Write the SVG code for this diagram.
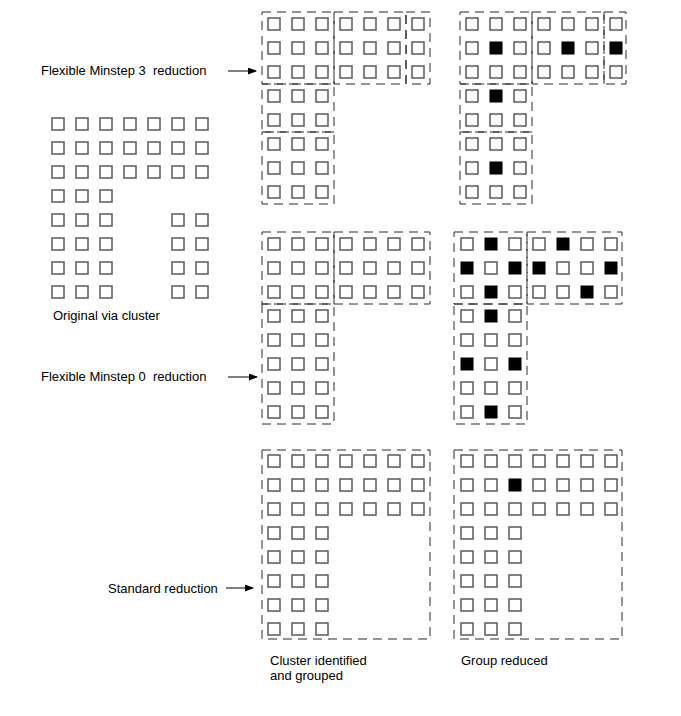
<svg xmlns="http://www.w3.org/2000/svg" xmlns:xlink="http://www.w3.org/1999/xlink" width="681" height="716" viewBox="0 0 681 716">
<style>
.sq{fill:#fff;stroke:#5a5a5a;stroke-width:1.5}
.bk{fill:#000;stroke:#000;stroke-width:1}
.box{fill:none;stroke:#2a2a2a;stroke-width:1;stroke-dasharray:9 6}
.lbl{font-family:"Liberation Sans",Arial,sans-serif;font-size:13px;fill:#000}
.arr{stroke:#000;stroke-width:1;fill:none}
</style>
<defs>
<rect id="s" width="12" height="12" class="sq"/>
<rect id="b" width="12" height="12" class="bk"/>
<marker id="ah" markerWidth="9" markerHeight="7" refX="8" refY="3.5" orient="auto" markerUnits="userSpaceOnUse">
<path d="M0,0 L9,3.5 L0,7 Z" fill="#000"/>
</marker>
</defs>
<rect width="681" height="716" fill="#fff"/>

<g id="original">
<use href="#s" x="52" y="118"/><use href="#s" x="76" y="118"/><use href="#s" x="100" y="118"/><use href="#s" x="124" y="118"/><use href="#s" x="148" y="118"/><use href="#s" x="172" y="118"/><use href="#s" x="196" y="118"/>
<use href="#s" x="52" y="142"/><use href="#s" x="76" y="142"/><use href="#s" x="100" y="142"/><use href="#s" x="124" y="142"/><use href="#s" x="148" y="142"/><use href="#s" x="172" y="142"/><use href="#s" x="196" y="142"/>
<use href="#s" x="52" y="166"/><use href="#s" x="76" y="166"/><use href="#s" x="100" y="166"/><use href="#s" x="124" y="166"/><use href="#s" x="148" y="166"/><use href="#s" x="172" y="166"/><use href="#s" x="196" y="166"/>
<use href="#s" x="52" y="190"/><use href="#s" x="76" y="190"/><use href="#s" x="100" y="190"/>
<use href="#s" x="52" y="214"/><use href="#s" x="76" y="214"/><use href="#s" x="100" y="214"/><use href="#s" x="172" y="214"/><use href="#s" x="196" y="214"/>
<use href="#s" x="52" y="238"/><use href="#s" x="76" y="238"/><use href="#s" x="100" y="238"/><use href="#s" x="172" y="238"/><use href="#s" x="196" y="238"/>
<use href="#s" x="52" y="262"/><use href="#s" x="76" y="262"/><use href="#s" x="100" y="262"/><use href="#s" x="172" y="262"/><use href="#s" x="196" y="262"/>
<use href="#s" x="52" y="286"/><use href="#s" x="76" y="286"/><use href="#s" x="100" y="286"/><use href="#s" x="172" y="286"/><use href="#s" x="196" y="286"/>
<text class="lbl" x="53" y="320">Original via cluster</text>
</g>

<g id="minstep3-grouped">
<use href="#s" x="268" y="18"/><use href="#s" x="292" y="18"/><use href="#s" x="316" y="18"/><use href="#s" x="340" y="18"/><use href="#s" x="364" y="18"/><use href="#s" x="388" y="18"/><use href="#s" x="412" y="18"/>
<use href="#s" x="268" y="42"/><use href="#s" x="292" y="42"/><use href="#s" x="316" y="42"/><use href="#s" x="340" y="42"/><use href="#s" x="364" y="42"/><use href="#s" x="388" y="42"/><use href="#s" x="412" y="42"/>
<use href="#s" x="268" y="66"/><use href="#s" x="292" y="66"/><use href="#s" x="316" y="66"/><use href="#s" x="340" y="66"/><use href="#s" x="364" y="66"/><use href="#s" x="388" y="66"/><use href="#s" x="412" y="66"/>
<use href="#s" x="268" y="90"/><use href="#s" x="292" y="90"/><use href="#s" x="316" y="90"/>
<use href="#s" x="268" y="114"/><use href="#s" x="292" y="114"/><use href="#s" x="316" y="114"/>
<use href="#s" x="268" y="138"/><use href="#s" x="292" y="138"/><use href="#s" x="316" y="138"/>
<use href="#s" x="268" y="162"/><use href="#s" x="292" y="162"/><use href="#s" x="316" y="162"/>
<use href="#s" x="268" y="186"/><use href="#s" x="292" y="186"/><use href="#s" x="316" y="186"/>
<rect class="box" x="262" y="12" width="72" height="72"/>
<rect class="box" x="334" y="12" width="72" height="72"/>
<rect class="box" x="406" y="12" width="24" height="72"/>
<rect class="box" x="262" y="84" width="72" height="48"/>
<rect class="box" x="262" y="132" width="72" height="72"/>
</g>

<g id="minstep3-reduced">
<use href="#s" x="466" y="18"/><use href="#s" x="490" y="18"/><use href="#s" x="514" y="18"/><use href="#s" x="538" y="18"/><use href="#s" x="562" y="18"/><use href="#s" x="586" y="18"/><use href="#s" x="610" y="18"/>
<use href="#s" x="466" y="42"/><use href="#b" x="490" y="42"/><use href="#s" x="514" y="42"/><use href="#s" x="538" y="42"/><use href="#b" x="562" y="42"/><use href="#s" x="586" y="42"/><use href="#b" x="610" y="42"/>
<use href="#s" x="466" y="66"/><use href="#s" x="490" y="66"/><use href="#s" x="514" y="66"/><use href="#s" x="538" y="66"/><use href="#s" x="562" y="66"/><use href="#s" x="586" y="66"/><use href="#s" x="610" y="66"/>
<use href="#s" x="466" y="90"/><use href="#b" x="490" y="90"/><use href="#s" x="514" y="90"/>
<use href="#s" x="466" y="114"/><use href="#s" x="490" y="114"/><use href="#s" x="514" y="114"/>
<use href="#s" x="466" y="138"/><use href="#s" x="490" y="138"/><use href="#s" x="514" y="138"/>
<use href="#s" x="466" y="162"/><use href="#b" x="490" y="162"/><use href="#s" x="514" y="162"/>
<use href="#s" x="466" y="186"/><use href="#s" x="490" y="186"/><use href="#s" x="514" y="186"/>
<rect class="box" x="460" y="12" width="72" height="72"/>
<rect class="box" x="532" y="12" width="72" height="72"/>
<rect class="box" x="604" y="12" width="22" height="72"/>
<rect class="box" x="460" y="84" width="72" height="48"/>
<rect class="box" x="460" y="132" width="72" height="72"/>
</g>

<g id="minstep0-grouped">
<use href="#s" x="268" y="238"/><use href="#s" x="292" y="238"/><use href="#s" x="316" y="238"/><use href="#s" x="340" y="238"/><use href="#s" x="364" y="238"/><use href="#s" x="388" y="238"/><use href="#s" x="412" y="238"/>
<use href="#s" x="268" y="262"/><use href="#s" x="292" y="262"/><use href="#s" x="316" y="262"/><use href="#s" x="340" y="262"/><use href="#s" x="364" y="262"/><use href="#s" x="388" y="262"/><use href="#s" x="412" y="262"/>
<use href="#s" x="268" y="286"/><use href="#s" x="292" y="286"/><use href="#s" x="316" y="286"/><use href="#s" x="340" y="286"/><use href="#s" x="364" y="286"/><use href="#s" x="388" y="286"/><use href="#s" x="412" y="286"/>
<use href="#s" x="268" y="310"/><use href="#s" x="292" y="310"/><use href="#s" x="316" y="310"/>
<use href="#s" x="268" y="334"/><use href="#s" x="292" y="334"/><use href="#s" x="316" y="334"/>
<use href="#s" x="268" y="358"/><use href="#s" x="292" y="358"/><use href="#s" x="316" y="358"/>
<use href="#s" x="268" y="382"/><use href="#s" x="292" y="382"/><use href="#s" x="316" y="382"/>
<use href="#s" x="268" y="406"/><use href="#s" x="292" y="406"/><use href="#s" x="316" y="406"/>
<rect class="box" x="262" y="232" width="72" height="72"/>
<rect class="box" x="334" y="232" width="96" height="72"/>
<rect class="box" x="262" y="304" width="72" height="120"/>
</g>

<g id="minstep0-reduced">
<use href="#s" x="461" y="238"/><use href="#b" x="485" y="238"/><use href="#s" x="509" y="238"/><use href="#s" x="533" y="238"/><use href="#b" x="557" y="238"/><use href="#s" x="581" y="238"/><use href="#s" x="605" y="238"/>
<use href="#b" x="461" y="262"/><use href="#s" x="485" y="262"/><use href="#b" x="509" y="262"/><use href="#b" x="533" y="262"/><use href="#s" x="557" y="262"/><use href="#s" x="581" y="262"/><use href="#b" x="605" y="262"/>
<use href="#s" x="461" y="286"/><use href="#b" x="485" y="286"/><use href="#s" x="509" y="286"/><use href="#s" x="533" y="286"/><use href="#s" x="557" y="286"/><use href="#b" x="581" y="286"/><use href="#s" x="605" y="286"/>
<use href="#s" x="461" y="310"/><use href="#b" x="485" y="310"/><use href="#s" x="509" y="310"/>
<use href="#s" x="461" y="334"/><use href="#s" x="485" y="334"/><use href="#s" x="509" y="334"/>
<use href="#b" x="461" y="358"/><use href="#s" x="485" y="358"/><use href="#b" x="509" y="358"/>
<use href="#s" x="461" y="382"/><use href="#s" x="485" y="382"/><use href="#s" x="509" y="382"/>
<use href="#s" x="461" y="406"/><use href="#b" x="485" y="406"/><use href="#s" x="509" y="406"/>
<rect class="box" x="454" y="232" width="73" height="72"/>
<rect class="box" x="527" y="232" width="95" height="72"/>
<rect class="box" x="454" y="304" width="73" height="120"/>
</g>

<g id="standard-grouped">
<use href="#s" x="268" y="455"/><use href="#s" x="292" y="455"/><use href="#s" x="316" y="455"/><use href="#s" x="340" y="455"/><use href="#s" x="364" y="455"/><use href="#s" x="388" y="455"/><use href="#s" x="412" y="455"/>
<use href="#s" x="268" y="479"/><use href="#s" x="292" y="479"/><use href="#s" x="316" y="479"/><use href="#s" x="340" y="479"/><use href="#s" x="364" y="479"/><use href="#s" x="388" y="479"/><use href="#s" x="412" y="479"/>
<use href="#s" x="268" y="503"/><use href="#s" x="292" y="503"/><use href="#s" x="316" y="503"/><use href="#s" x="340" y="503"/><use href="#s" x="364" y="503"/><use href="#s" x="388" y="503"/><use href="#s" x="412" y="503"/>
<use href="#s" x="268" y="527"/><use href="#s" x="292" y="527"/><use href="#s" x="316" y="527"/>
<use href="#s" x="268" y="551"/><use href="#s" x="292" y="551"/><use href="#s" x="316" y="551"/>
<use href="#s" x="268" y="575"/><use href="#s" x="292" y="575"/><use href="#s" x="316" y="575"/>
<use href="#s" x="268" y="599"/><use href="#s" x="292" y="599"/><use href="#s" x="316" y="599"/>
<use href="#s" x="268" y="623"/><use href="#s" x="292" y="623"/><use href="#s" x="316" y="623"/>
<rect class="box" x="262" y="450" width="168" height="189"/>
</g>

<g id="standard-reduced">
<use href="#s" x="461" y="455"/><use href="#s" x="485" y="455"/><use href="#s" x="509" y="455"/><use href="#s" x="533" y="455"/><use href="#s" x="557" y="455"/><use href="#s" x="581" y="455"/><use href="#s" x="605" y="455"/>
<use href="#s" x="461" y="479"/><use href="#s" x="485" y="479"/><use href="#b" x="509" y="479"/><use href="#s" x="533" y="479"/><use href="#s" x="557" y="479"/><use href="#s" x="581" y="479"/><use href="#s" x="605" y="479"/>
<use href="#s" x="461" y="503"/><use href="#s" x="485" y="503"/><use href="#s" x="509" y="503"/><use href="#s" x="533" y="503"/><use href="#s" x="557" y="503"/><use href="#s" x="581" y="503"/><use href="#s" x="605" y="503"/>
<use href="#s" x="461" y="527"/><use href="#s" x="485" y="527"/><use href="#s" x="509" y="527"/>
<use href="#s" x="461" y="551"/><use href="#s" x="485" y="551"/><use href="#s" x="509" y="551"/>
<use href="#s" x="461" y="575"/><use href="#s" x="485" y="575"/><use href="#s" x="509" y="575"/>
<use href="#s" x="461" y="599"/><use href="#s" x="485" y="599"/><use href="#s" x="509" y="599"/>
<use href="#s" x="461" y="623"/><use href="#s" x="485" y="623"/><use href="#s" x="509" y="623"/>
<rect class="box" x="454" y="450" width="168" height="189"/>
</g>

<g id="labels">
<text class="lbl" x="41" y="75">Flexible Minstep 3&#160; reduction</text>
<text class="lbl" x="41" y="381">Flexible Minstep 0&#160; reduction</text>
<text class="lbl" x="108" y="593">Standard reduction</text>
<text class="lbl" x="270" y="665">Cluster identified</text>
<text class="lbl" x="270" y="680">and grouped</text>
<text class="lbl" x="461" y="665">Group reduced</text>
</g>

<g id="connectors">
<line class="arr" x1="228" y1="71" x2="256" y2="71" marker-end="url(#ah)"/>
<line class="arr" x1="228" y1="377" x2="257" y2="377" marker-end="url(#ah)"/>
<line class="arr" x1="226" y1="588" x2="253" y2="588" marker-end="url(#ah)"/>
</g>
</svg>
